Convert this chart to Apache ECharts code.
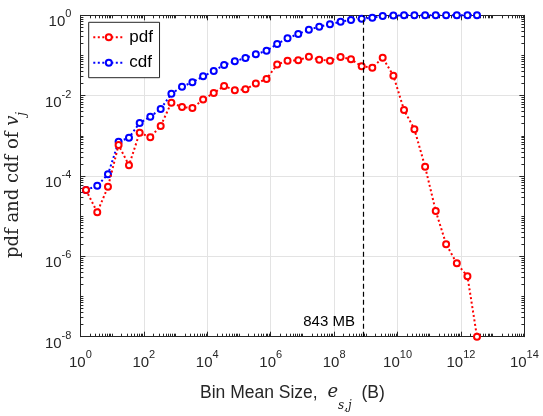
<!DOCTYPE html>
<html>
<head>
<meta charset="utf-8">
<script src="https://cdn.jsdelivr.net/npm/echarts@6/dist/echarts.min.js"></script>
<style>
  html, body { margin: 0; padding: 0; background: #fff; }
  #chart { width: 543px; height: 416px; }
</style>
</head>
<body>
<div id="chart"></div>
<script>
// Bin mean sizes (bytes), one per size bin
const binMeanSize = [
  1.5, 3.4, 7.4,
  16, 34, 74,
  160, 340, 740,
  1.6e3, 3.4e3, 7.4e3,
  1.6e4, 3.4e4, 7.4e4,
  1.6e5, 3.4e5, 7.4e5,
  1.6e6, 3.4e6, 7.4e6,
  1.6e7, 3.4e7, 7.4e7,
  1.6e8, 3.4e8, 7.4e8,
  1.6e9, 3.4e9, 7.4e9,
  1.6e10, 3.4e10, 7.4e10,
  1.6e11, 3.4e11, 7.4e11,
  1.6e12, 3.2e12
];

// Probability of each bin
const pdfValues = [
  4.5e-5, 1.25e-5, 5.4e-5,
  5.9e-4, 1.85e-4, 1.2e-3,
  9.2e-4, 1.76e-3, 6.7e-3,
  5.2e-3, 4.9e-3, 8.0e-3,
  1.16e-2, 1.74e-2, 1.36e-2,
  1.44e-2, 2.0e-2, 2.6e-2,
  6.0e-2, 7.4e-2, 7.6e-2,
  9.3e-2, 7.85e-2, 7.4e-2,
  9.2e-2, 8.0e-2, 5.4e-2,
  4.97e-2, 8.8e-2, 3.14e-2,
  4.4e-3, 1.46e-3, 1.7e-4,
  1.35e-5, 2.0e-6, 6.7e-7,
  3.2e-7, 1.0e-8
];

// Cumulative probability up to each bin
const cdfValues = [
  4.5e-5, 5.7e-5, 1.1e-4,
  7.1e-4, 9.0e-4, 2.1e-3,
  3.0e-3, 4.66e-3, 1.12e-2,
  1.67e-2, 2.15e-2, 3.03e-2,
  4.1e-2, 5.8e-2, 7.2e-2,
  8.65e-2, 0.107, 0.131,
  0.193, 0.268, 0.343,
  0.438, 0.52, 0.597,
  0.693, 0.764, 0.818,
  0.87, 0.96, 0.99,
  0.996, 0.998, 0.9998,
  1, 1, 1,
  1, 1
];

// Size threshold marked with a dashed line
const cutoffMB = 843;
const cutoffBytes = cutoffMB * 1e6;

// Axis ranges (decade exponents)
const xExpRange = [0, 14];
const yExpRange = [-8, 0];

// Minor tick positions on a log axis: 2..9 x 10^k plus the odd decades
function minorTicks(lo, hi) {
  const out = [];
  for (let e = lo; e < hi; e++) {
    if ((e - lo) % 2 === 1) out.push(Math.pow(10, e));
    for (let m = 2; m <= 9; m++) out.push(m * Math.pow(10, e));
  }
  return out;
}

const INK = '#262626';
const SANS = 'Liberation Sans';
const SERIF = 'DejaVu Serif';

// "10" with a raised exponent
const tickRich = {
  b: { fontSize: 15, fontFamily: SANS, color: INK, lineHeight: 21, verticalAlign: 'bottom' },
  s: { fontSize: 11, fontFamily: SANS, color: INK, lineHeight: 2, verticalAlign: 'top' }
};
const powLabel = v => '{b|10}{s|' + Math.round(Math.log10(v)) + '}';

function xAxisDef(position, withLabels, minor) {
  return {
    type: 'log', logBase: 10,
    min: Math.pow(10, xExpRange[0]), max: Math.pow(10, xExpRange[1]),
    interval: 2, splitNumber: 7,
    position: position,
    axisLine: { show: !minor, onZero: false, lineStyle: { color: INK, width: 1 } },
    axisTick: minor
      ? { show: true, inside: true, length: 3, lineStyle: { color: INK, width: 1 },
          customValues: minorTicks(xExpRange[0], xExpRange[1]) }
      : { show: true, inside: true, length: 5, lineStyle: { color: INK, width: 1 } },
    axisLabel: withLabels
      ? { show: true, margin: 13, formatter: powLabel, rich: tickRich }
      : { show: false },
    splitLine: { show: withLabels, lineStyle: { color: '#e3e3e3', width: 1 } },
    minorTick: { show: false },
    name: withLabels ? '{a|Bin Mean Size,  }{e|e}{sub|s,j}{a|  (B)}' : '',
    nameLocation: 'middle',
    nameGap: 47,
    nameTextStyle: {
      padding: [0, 20, 0, 0],
      rich: {
        a: { fontSize: 17.5, fontFamily: SANS, color: INK, lineHeight: 28, verticalAlign: 'top' },
        e: { fontSize: 18, fontFamily: SERIF, fontStyle: 'italic', color: INK, lineHeight: 28, verticalAlign: 'top' },
        sub: { fontSize: 12, fontFamily: SERIF, fontStyle: 'italic', color: INK, lineHeight: 28, verticalAlign: 'bottom' }
      }
    }
  };
}

function yAxisDef(position, withLabels, minor) {
  return {
    type: 'log', logBase: 10,
    min: Math.pow(10, yExpRange[0]), max: Math.pow(10, yExpRange[1]),
    interval: 2, splitNumber: 4,
    position: position,
    axisLine: { show: !minor, onZero: false, lineStyle: { color: INK, width: 1 } },
    axisTick: minor
      ? { show: true, inside: true, length: 3, lineStyle: { color: INK, width: 1 },
          customValues: minorTicks(yExpRange[0], yExpRange[1]) }
      : { show: true, inside: true, length: 5, lineStyle: { color: INK, width: 1 } },
    axisLabel: withLabels
      ? { show: true, margin: 9, padding: [8, 0, 0, 0], formatter: powLabel, rich: tickRich }
      : { show: false },
    splitLine: { show: withLabels, lineStyle: { color: '#e3e3e3', width: 1 } },
    minorTick: { show: false },
    name: withLabels ? '{a|pdf and cdf of }{v|v}{j|j}' : '',
    nameLocation: 'middle',
    nameRotate: 90,
    nameGap: 53,
    nameTextStyle: {
      padding: [0, 18, 0, 0],
      rich: {
        a: { fontSize: 18, fontFamily: SERIF, color: INK, lineHeight: 23, verticalAlign: 'top' },
        v: { fontSize: 18, fontFamily: SERIF, fontStyle: 'italic', color: INK, lineHeight: 23, verticalAlign: 'top' },
        j: { fontSize: 12, fontFamily: SERIF, fontStyle: 'italic', color: INK, lineHeight: 23, verticalAlign: 'bottom' }
      }
    }
  };
}

const chart = echarts.init(document.getElementById('chart'), null, { renderer: 'canvas' });

chart.setOption({
  animation: false,
  backgroundColor: '#fff',
  grid: { left: 80.4, right: 18.6, top: 15.3, bottom: 79.3, containLabel: false, outerBoundsMode: 'none' },
  legend: {
    orient: 'vertical',
    left: 88.7, top: 22.3,
    padding: [6.5, 6.6, 6.5, 3.6],
    itemWidth: 31, itemHeight: 7.5, itemGap: 8.4,
    borderColor: INK, borderWidth: 1, backgroundColor: '#fff',
    textStyle: { fontSize: 17, fontFamily: SANS, color: '#000', lineHeight: 17 },
    data: ['pdf', 'cdf']
  },
  xAxis: [
    xAxisDef('bottom', true, false),
    xAxisDef('top', false, false),
    xAxisDef('bottom', false, true),
    xAxisDef('top', false, true)
  ],
  yAxis: [
    yAxisDef('left', true, false),
    yAxisDef('right', false, false),
    yAxisDef('left', false, true),
    yAxisDef('right', false, true)
  ],
  series: [
    {
      name: 'cdf', type: 'line',
      xAxisIndex: 0, yAxisIndex: 0,
      data: binMeanSize.map((x, i) => [x, cdfValues[i]]),
      symbol: 'emptyCircle', symbolSize: 6, showAllSymbol: true,
      clip: false,
      itemStyle: { color: '#0000ff', borderWidth: 1.8 },
      lineStyle: { color: '#0000ff', width: 2, type: [2, 2.5] },
      z: 3
    },
    {
      name: 'pdf', type: 'line',
      xAxisIndex: 0, yAxisIndex: 0,
      data: binMeanSize.map((x, i) => [x, pdfValues[i]]),
      symbol: 'emptyCircle', symbolSize: 6, showAllSymbol: true,
      clip: false,
      itemStyle: { color: '#ff0000', borderWidth: 1.8 },
      lineStyle: { color: '#ff0000', width: 2, type: [2, 2.5] },
      z: 4,
      markLine: {
        silent: true,
        symbol: ['none', 'none'],
        label: { show: false },
        lineStyle: { color: '#000', type: [5, 3], width: 1.2 },
        data: [{ xAxis: cutoffBytes }]
      },
      markPoint: {
        silent: true,
        symbol: 'circle', symbolSize: 0,
        itemStyle: { color: 'transparent' },
        label: {
          show: true, position: 'left', distance: 8.5,
          fontSize: 15, fontFamily: SANS, color: '#000',
          formatter: cutoffMB + ' MB'
        },
        data: [{ coord: [cutoffBytes, 2.4e-8] }]
      }
    }
  ]
});
</script>
</body>
</html>
